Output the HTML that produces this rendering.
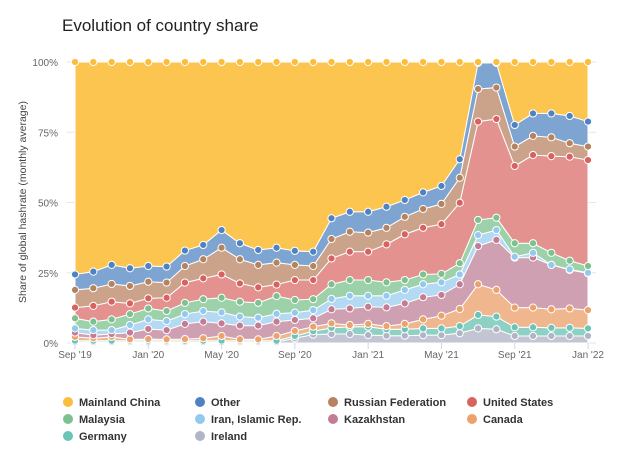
<!DOCTYPE html>
<html><head><meta charset="utf-8"><style>
body{margin:0;background:#fff;font-family:"Liberation Sans",sans-serif}
svg text{font-family:"Liberation Sans",sans-serif}
</style></head><body>
<svg id="c" width="627" height="453" viewBox="0 0 627 453">
<text x="62" y="31" font-size="17" fill="#222">Evolution of country share</text>
<text transform="translate(26,202) rotate(-90)" text-anchor="middle" font-size="10.5" fill="#444">Share of global hashrate (monthly average)</text>
<g id="grid"></g><g id="areas"></g><g id="dots"></g><g id="axes"></g><g id="legend"></g>
</svg>
<script>
const months = 29;
const xTickLabels = ["Sep '19","Jan '20","May '20","Sep '20","Jan '21","May '21","Sep '21","Jan '22"];
const xTickIdx = [0,4,8,12,16,20,24,28];
const yTicks = [0,25,50,75,100];
const seriesNames = ["Ireland","Germany","Canada","Kazakhstan","Iran, Islamic Rep.","Malaysia","United States","Russian Federation","Other","Mainland China"];
const ireland = [0.3,0.3,0.3,0.3,0.3,0.3,0.3,0.3,0.3,0.3,0.3,0.3,1.7,3.0,3.2,3.2,2.8,2.6,2.6,2.8,2.8,3.5,5.2,4.9,2.5,2.5,2.5,2.5,2.5];
const germany = [0.5,0.5,0.5,0.5,0.5,0.5,0.5,0.5,0.5,0.5,0.5,0.5,0.8,1.2,2.2,2.6,3.0,2.3,2.3,2.4,2.4,2.5,4.8,4.5,3.1,3.1,2.9,2.9,2.7];
const canada = [1.4,0.9,1.4,0.5,0.6,0.5,0.6,0.9,1.7,0.5,0.5,1.7,1.8,1.6,1.6,0.6,1.0,1.1,1.9,3.2,4.5,6.1,10.9,9.5,7.0,7.0,6.6,6.9,6.5];
const kazakhstan = [1.5,1.1,1.0,2.4,3.6,3.3,5.4,5.9,4.5,4.9,4.9,5.1,3.9,3.0,5.0,5.9,6.1,6.7,7.3,7.9,7.4,8.8,13.6,17.8,17.8,17.8,15.8,13.7,13.1];
const iran = [1.5,1.8,1.4,2.7,3.4,3.2,3.5,3.8,3.9,3.2,2.8,2.8,2.6,2.9,3.7,4.5,3.9,4.1,4.8,4.6,4.5,3.5,3.9,3.5,0.3,1.7,0,0.2,0.2];
const malaysia = [3.6,3.0,3.8,3.9,3.9,3.6,4.0,4.2,5.2,5.3,5.3,6.3,4.5,3.9,5.2,5.6,5.6,4.8,3.5,3.5,3.0,4.0,5.4,4.4,4.8,3.4,4.3,3.1,2.4];
const unitedStates = [3.8,5.6,6.3,3.8,3.6,4.7,7.2,7.4,8.3,6.5,5.5,4.1,7.1,6.8,9.2,10.1,10.1,13.5,16.3,16.6,17.7,21.5,35.0,35.1,27.5,31.4,34.4,37.0,37.7];
const russia = [6.3,6.3,6.3,6.2,5.9,5.4,5.9,6.8,9.5,8.6,8.0,7.8,5.4,5.0,6.9,7.1,6.8,5.9,6.2,6.7,7.2,8.9,11.6,11.2,6.9,6.8,6.7,4.8,4.8];
const other = [5.5,5.9,6.8,6.3,5.6,5.7,5.5,5.1,6.3,5.7,5.3,5.3,5.0,5.1,7.4,7.1,7.4,7.5,6.0,5.9,6.4,6.6,9.3,8.8,7.7,8.0,8.5,9.7,8.9];
const china = [75.6,74.6,72.2,73.4,72.6,72.8,67.1,65.1,59.8,64.5,66.9,66.1,67.2,67.5,55.6,53.3,53.3,51.5,49.1,46.4,44.1,34.6,0.3,0.3,22.4,18.3,18.3,19.2,21.2];

const series=[ireland,germany,canada,kazakhstan,iran,malaysia,unitedStates,russia,other,china];
const dotCol=["#b0b5c6","#6cc4b6","#eda26d","#c47c95","#93c9ee","#7cc18e","#d9625e","#b5835f","#4f82c3","#fbbd3c"];
const areaCol=["#c3c6d2","#8fd0c5","#f0b78e","#cfa0b2","#b3d9f3","#9dd1aa","#e39290","#cba38a","#7ea4d2","#fcc54f"];
const legendOrder=[9,8,7,6,5,4,3,2,1,0];
const X0=75,X1=588,Y0=343,Y1=62;
const NS="http://www.w3.org/2000/svg";
const xs=i=>X0+(X1-X0)*i/(months-1);
const ys=v=>Y0-(Y0-Y1)*Math.min(v,100)/100;
function mk(t,a,p){const e=document.createElementNS(NS,t);for(const k in a)e.setAttribute(k,a[k]);p.appendChild(e);return e;}
const G=document.getElementById('grid'),A=document.getElementById('areas'),D=document.getElementById('dots'),AX=document.getElementById('axes'),L=document.getElementById('legend');
yTicks.forEach(t=>{
 const l=mk('line',{x1:X0-8,x2:X1+8,y1:ys(t),y2:ys(t),stroke:'#e6e6e6'},G);
 
 
 const tx=mk('text',{x:58,y:ys(t)+4,'text-anchor':'end','font-size':'10',fill:'#666'},AX);tx.textContent=t+'%';
 
 
});
xTickIdx.forEach((idx,k)=>{
 mk('line',{x1:xs(idx),x2:xs(idx),y1:Y0,y2:Y0+6,stroke:'#ccd6eb'},AX);
 const tx=mk('text',{x:xs(idx),y:Y0+15,'text-anchor':'middle','font-size':'10',fill:'#666'},AX);tx.textContent=xTickLabels[k];
 
 
});
let base=new Array(months).fill(0);
const tops=[];
series.forEach((s,si)=>{
 const top=s.map((v,i)=>base[i]+v);
 let d='M'+top.map((v,i)=>xs(i)+','+ys(v)).join('L');
 for(let i=months-1;i>=0;i--)d+='L'+xs(i)+','+ys(base[i]);
 const p=mk('path',{d:d+'Z',fill:areaCol[si],stroke:'#fff','stroke-width':'1'},A);
 
 
 tops.push(top);base=top;
});
tops.forEach((top,si)=>{top.forEach((v,i)=>{
 const c=mk('circle',{cx:xs(i),cy:ys(v),r:3.6,fill:dotCol[si],stroke:'#fff','stroke-width':'1'},D);
 
 
});});
const lx=[68,200,333,472],ly=[402,419,436];
legendOrder.forEach((si,k)=>{
 const g=mk('g',{},L);
 
 
 const x=lx[k%4],y=ly[Math.floor(k/4)];
 mk('circle',{cx:x,cy:y,r:5,fill:dotCol[si]},g);
 const t=mk('text',{x:x+11,y:y+4,'font-size':'11','font-weight':'bold',fill:'#333'},g);t.textContent=seriesNames[si];
});
</script>
</body></html>
